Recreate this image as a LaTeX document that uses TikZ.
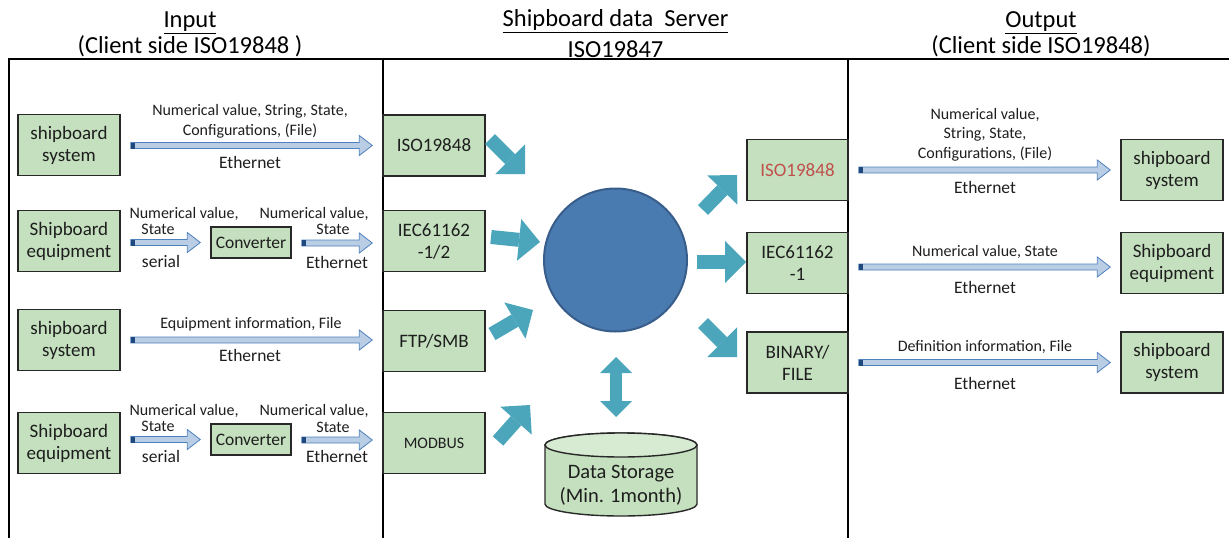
\documentclass[tikz,border=0pt]{standalone}
\usepackage{fontspec}
\setmainfont{Carlito}
\usetikzlibrary{calc,arrows.meta}
\definecolor{boxgreen}{RGB}{196,224,190}
\definecolor{boxedge}{RGB}{40,40,40}
\definecolor{txt}{RGB}{30,30,30}
\definecolor{afill}{RGB}{185,205,229}
\definecolor{aedge}{RGB}{79,129,189}
\definecolor{atail}{RGB}{31,73,125}
\definecolor{tealc}{RGB}{75,166,188}
\definecolor{srvfill}{RGB}{74,123,176}
\definecolor{srvedge}{RGB}{56,93,138}
\definecolor{cyltop}{RGB}{215,234,210}
\definecolor{redtxt}{RGB}{192,80,77}
\newcommand\flowarrow[3]{%
  \coordinate (fa-e) at ($(#2.west)+(-10,#3)$);
  \coordinate (fa-s) at ($(#1.east)+(10,0)$);
  \coordinate (fa-s) at (fa-s |- fa-e);
  \draw[thinarrow] ($(fa-s)+(0,-3)$) -- ($(fa-e)+(-13,-3)$) -- ($(fa-e)+(-13,-10)$) -- (fa-e) -- ($(fa-e)+(-13,10)$) -- ($(fa-e)+(-13,3)$) -- ($(fa-s)+(0,3)$) -- cycle;
  \fill[atail] ($(fa-s)+(0,-3)$) rectangle ($(fa-s)+(4,3)$);
}
\begin{document}
\begin{tikzpicture}[x=1pt,y=-1pt,
  gbox/.style={draw=boxedge, fill=boxgreen, line width=1.4pt, inner sep=0pt, align=center, text=txt,
    minimum width=102pt, minimum height=61pt, font=\fontsize{19}{22}\selectfont},
  convbox/.style={gbox, minimum width=80pt, minimum height=31pt, font=\fontsize{17.5}{20}\selectfont},
  lbl/.style={inner sep=0pt, align=center, text=txt, font=\fontsize{16}{19.5}\selectfont},
  lblb/.style={inner sep=0pt, align=center, text=txt, font=\fontsize{17.5}{20}\selectfont},
  ttl/.style={inner sep=0pt, align=center, text=black, font=\fontsize{24.5}{28}\selectfont},
  thinarrow/.style={draw=aedge, fill=afill, line width=0.8pt, line join=miter},
  tealarrow/.style={draw=tealc, line width=14pt, -{Triangle[length=21pt,width=42pt,line width=0pt]}},
  tealboth/.style={draw=tealc, line width=12pt, {Triangle[length=16pt,width=32pt,line width=0pt]}-{Triangle[length=16pt,width=32pt,line width=0pt]}},
  frame/.style={draw=black, line width=1.5pt}
]
\useasboundingbox (0,0) rectangle (1229,538);

% frame
\draw[frame] (9,538) -- (9,59) -- (1229,59);
\draw[frame] (383,59) -- (383,538);
\draw[frame] (848,59) -- (848,538);

% titles
\node[ttl] (tin) at (190,23) {\underline{Input}};
\node[ttl] (tin2) at (190,46) {(Client side ISO19848 )};
\node[ttl] (tsv) at (615.5,21) {\underline{Shipboard data\ \ Server}};
\node[ttl] (tsv2) at (615.5,49) {ISO19847};
\node[ttl] (tout) at (1041,23) {\underline{Output}};
\node[ttl] (tout2) at (1041,46) {(Client side ISO19848)};

% left column
\node[gbox] (l1) at (69,145) {shipboard\\system};
\node[gbox] (l2) at (69,241) {Shipboard\\equipment};
\node[gbox] (l3) at (69,340) {shipboard\\system};
\node[gbox] (l4) at (69,443) {Shipboard\\equipment};
\node[convbox] (c2) at (251,242.5) {Converter};
\node[convbox] (c4) at (251,439.5) {Converter};

% server inputs
\node[gbox] (s1) at (434,145.5) {ISO19848};
\node[gbox] (s2) at (434,241) {IEC61162\\-1/2};
\node[gbox] (s3) at (434,341) {FTP/SMB};
\node[gbox, font=\fontsize{16}{19}\selectfont] (s4) at (434,443) {MODBUS};

% server outputs
\node[gbox, minimum width=101pt, text=redtxt] (o1) at (797.5,170) {ISO19848};
\node[gbox, minimum width=101pt] (o2) at (797.5,263) {IEC61162\\-1};
\node[gbox, minimum width=101pt] (o3) at (797.5,362.5) {BINARY/\\FILE};

% right column
\node[gbox] (r1) at (1172,170) {shipboard\\system};
\node[gbox] (r2) at (1172,263) {Shipboard\\equipment};
\node[gbox] (r3) at (1172,362.5) {shipboard\\system};

% server circle
\node[circle, minimum size=143pt, inner sep=0pt, fill=srvfill, draw=srvedge, line width=2pt] (srv) at (615.5,260) {};

% storage cylinder
\draw[draw=boxedge, fill=boxgreen, line width=1.4pt] (545,445) -- (545,504)
  arc[start angle=180, end angle=360, x radius=76pt, y radius=12pt] -- (697,445)
  arc[start angle=0, end angle=180, x radius=76pt, y radius=12pt] -- cycle;
\draw[draw=boxedge, fill=cyltop, line width=1.4pt] (621,445) ellipse [x radius=76pt, y radius=12pt];
\node[inner sep=0pt, align=center, text=txt, font=\fontsize{20.5}{24}\selectfont] (store) at (621,485) {Data Storage\\(Min. 1month)};

% thin flow arrows
\flowarrow{l1}{s1}{0}
\flowarrow{l2}{c2}{0}
\flowarrow{c2}{s2}{2}
\flowarrow{l3}{s3}{-1}
\flowarrow{l4}{c4}{0}
\flowarrow{c4}{s4}{-3}
\flowarrow{o1}{r1}{0}
\flowarrow{o2}{r2}{4}
\flowarrow{o3}{r3}{0}

% labels left
\node[lbl] (t1) at (250,121.5) {Numerical value, String, State,\\Configurations, (File)};
\node[lblb] (e1) at (250,162.5) {Ethernet};
\node[lbl] (t2a) at (184,214) {Numerical value,};
\node[lbl] (t2b) at (158,229) {State};
\node[lblb] (e2a) at (161,261) {serial};
\node[lbl] (t2c) at (314,214) {Numerical value,};
\node[lbl] (t2d) at (333,229) {State};
\node[lblb] (e2b) at (337,262) {Ethernet};
\node[lbl] (t3) at (251,324) {Equipment information, File};
\node[lblb] (e3) at (250,355) {Ethernet};
\node[lbl] (t4a) at (184,411) {Numerical value,};
\node[lbl] (t4b) at (158,426.5) {State};
\node[lblb] (e4a) at (161,456) {serial};
\node[lbl] (t4c) at (314,411) {Numerical value,};
\node[lbl] (t4d) at (333,427) {State};
\node[lblb] (e4b) at (337,456) {Ethernet};

% labels right
\node[lbl] (u1) at (985,134.5) {Numerical value,\\String, State,\\Configurations, (File)};
\node[lblb] (f1) at (985,187.5) {Ethernet};
\node[lbl] (u2) at (985,252) {Numerical value, State};
\node[lblb] (f2) at (985,287) {Ethernet};
\node[lbl] (u3) at (985,347) {Definition information, File};
\node[lblb] (f3) at (985,383) {Ethernet};

% teal arrows
\coordinate (aA) at (490,139); \coordinate (bA) at (525,174);
\coordinate (aB) at (491,237); \coordinate (bB) at (540,242);
\coordinate (aC) at (492,334); \coordinate (bC) at (533,310);
\coordinate (aD) at (498,441); \coordinate (bD) at (530,405);
\coordinate (aE) at (703,210); \coordinate (bE) at (737,175);
\coordinate (aF) at (697,262); \coordinate (bF) at (746,262);
\coordinate (aG) at (703,323); \coordinate (bG) at (737,357);
\coordinate (aH) at (616,357); \coordinate (bH) at (616,417);
\draw[tealarrow] (aA) -- (bA);
\draw[tealarrow] (aB) -- (bB);
\draw[tealarrow] (aC) -- (bC);
\draw[tealarrow] (aD) -- (bD);
\draw[tealarrow] (aE) -- (bE);
\draw[tealarrow] (aF) -- (bF);
\draw[tealarrow] (aG) -- (bG);
\draw[tealboth] (aH) -- (bH);
\end{tikzpicture}
\end{document}
